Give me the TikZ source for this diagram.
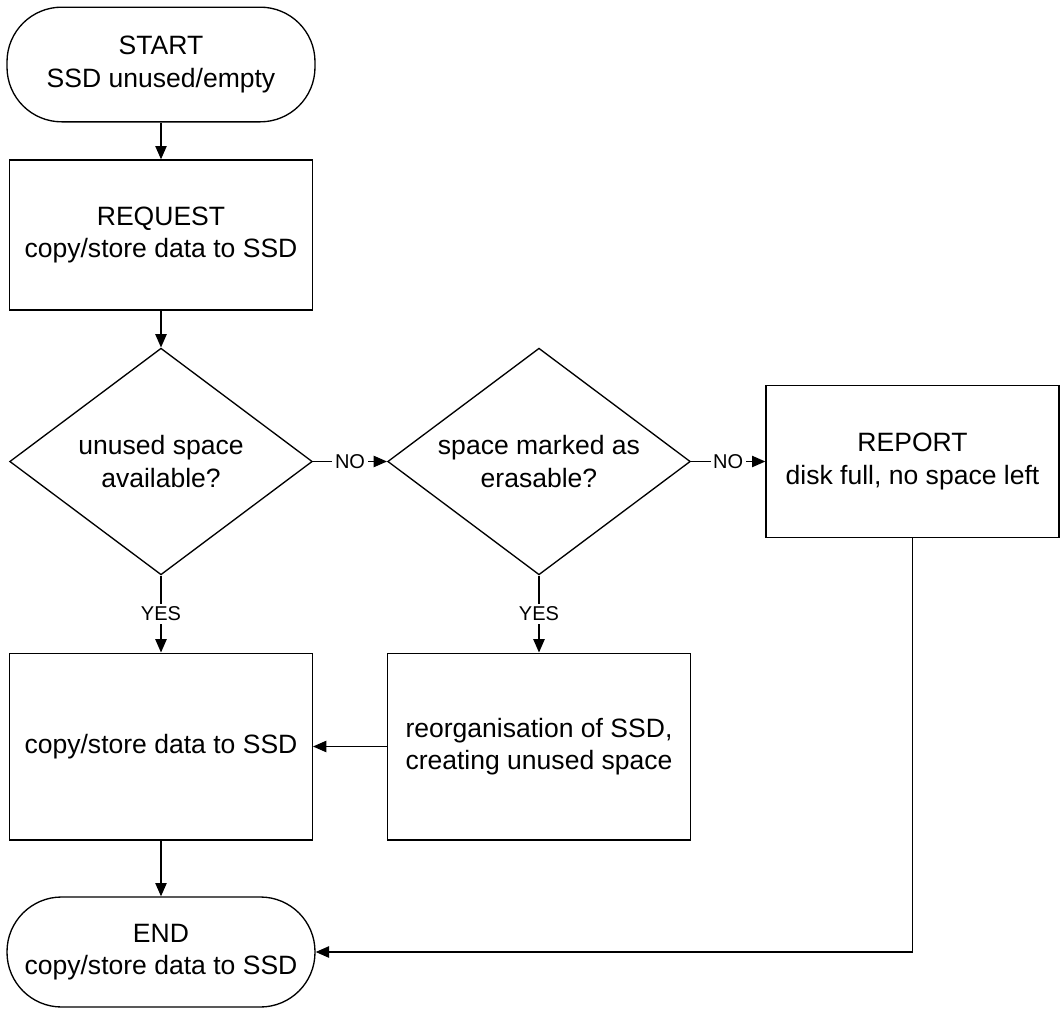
\documentclass[tikz,border=0pt]{standalone}
\usepackage{fontspec}
\setmainfont{Liberation Sans}
\usetikzlibrary{shapes.geometric,arrows.meta}
\tikzset{
  terminal/.style={draw, line width=1pt, rounded corners=41pt, minimum width=231pt, align=center, font=\fontsize{19.9pt}{24.5pt}\selectfont},
  process/.style={draw, line width=1pt, minimum width=227pt, align=center, font=\fontsize{19.9pt}{24.5pt}\selectfont},
  decision/.style={draw, diamond, line width=1pt, aspect=1.33, inner sep=0pt, minimum width=227pt, minimum height=170pt, align=center, font=\fontsize{19.9pt}{24.5pt}\selectfont},
  lbl/.style={fill=white, inner sep=2pt, font=\fontsize{15pt}{18pt}\selectfont}
}
\begin{document}
\begin{tikzpicture}[x=0.75pt, y=-0.75pt, >={Triangle[length=10pt,width=8.5pt]}, line width=1pt]
\useasboundingbox (0,0) rectangle (1061,1010);
\node[terminal, minimum height=86pt] (start) at (161,64.5) {START\\SSD unused/empty};
\node[process, minimum height=112.5pt] (request) at (161,235) {REQUEST\\copy/store data to SSD};
\node[decision] (unused) at (161,461.5) {unused space\\available?};
\node[decision] (erasable) at (539,461.5) {space marked as\\erasable?};
\node[process, minimum width=219.75pt, minimum height=114pt] (report) at (912.5,461.5) {REPORT\\disk full, no space left};
\node[process, minimum height=140pt] (copy) at (161,746.5) {copy/store data to SSD};
\node[process, minimum height=140pt] (reorg) at (539,746.5) {reorganisation of SSD,\\creating unused space};
\node[terminal, minimum height=82.5pt] (end) at (161,952) {END\\copy/store data to SSD};
\coordinate (turn) at (report.south |- end);

\draw[->] (start) -- (request);
\draw[->] (request) -- (unused);
\draw[->] (unused) -- node[lbl] {NO} (erasable);
\draw[->] (erasable) -- node[lbl] {NO} (report);
\draw[->] (unused) -- node[lbl] {YES} (copy);
\draw[->] (erasable) -- node[lbl] {YES} (reorg);
\draw[->] (reorg) -- (copy);
\draw[->] (copy) -- (end);
\draw[->] (report.south) -- (turn) -- (end.east);
\end{tikzpicture}
\end{document}
